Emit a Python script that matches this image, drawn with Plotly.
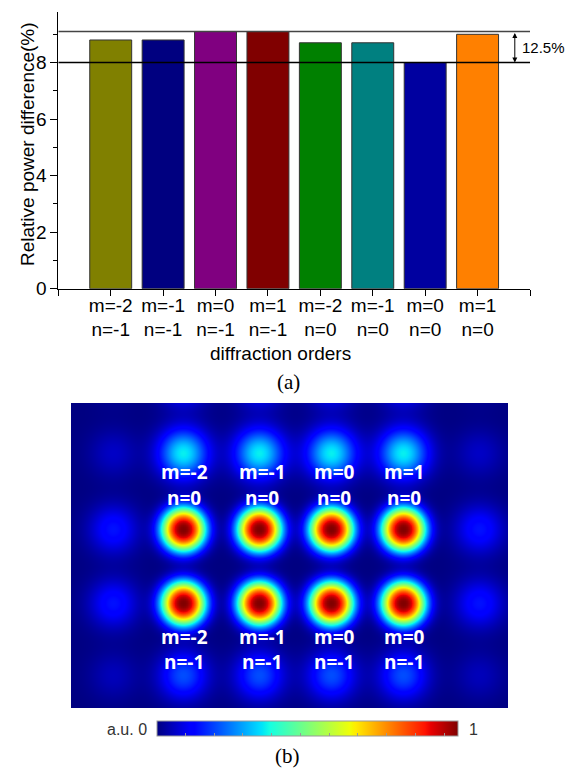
import numpy as np
import plotly.graph_objects as go

# ---------------- data: panel (a) ----------------
order_labels = ["m=-2<br>n=-1", "m=-1<br>n=-1", "m=0<br>n=-1", "m=1<br>n=-1",
                "m=-2<br>n=0", "m=-1<br>n=0", "m=0<br>n=0", "m=1<br>n=0"]
power_diff = [8.8, 8.8, 9.1, 9.1, 8.7, 8.7, 8.0, 9.0]
bar_colors = ["#808000", "#000080", "#800080", "#800000",
              "#008000", "#008080", "#0000A0", "#FF8000"]
ref_low = 8.0
ref_high = 9.1
ref_text = "12.5%"

# ---------------- data: panel (b) (spot centres in image pixels, peak intensity) ----------------
spot_cols = [42, 112, 188, 260, 332, 408]
spot_rows = [-25, 50, 126, 200, 272]
spot_amp = [
    [0.04, 0.22, 0.22, 0.22, 0.22, 0.04],
    [0.06, 0.36, 0.36, 0.36, 0.36, 0.06],
    [0.14, 1.00, 1.00, 1.00, 1.00, 0.14],
    [0.14, 1.00, 1.00, 1.00, 1.00, 0.14],
    [0.05, 0.20, 0.20, 0.20, 0.20, 0.05],
]
img_w, img_h = 437, 305
top_m = ["m=-2", "m=-1", "m=0", "m=1"]
top_n = ["n=0", "n=0", "n=0", "n=0"]
bot_m = ["m=-2", "m=-1", "m=0", "m=0"]
bot_n = ["n=-1", "n=-1", "n=-1", "n=-1"]
label_cols = [113, 191, 263, 333]

W, H = 576, 769
def px(x):
    return x / W
def py(y):
    return 1 - y / H

# build intensity image from the spots
xs = np.arange(0, img_w + 1, 2)
ys = np.arange(0, img_h + 1, 2)
X, Y = np.meshgrid(xs, ys)
Z = np.zeros(X.shape)
for ri, yc in enumerate(spot_rows):
    for ci, xc in enumerate(spot_cols):
        a = spot_amp[ri][ci]
        r = np.hypot(X - xc, Y - yc)
        if a >= 0.5:
            Z += a * np.exp(-(r / 22.0) ** 2.5)
        else:
            Z += a * np.exp(-(r / 24.0) ** 2)
Z = np.clip(Z, 0, 1)

jet = [[0.0, "rgb(0,0,128)"], [0.11, "rgb(0,0,255)"], [0.125, "rgb(0,0,255)"],
       [0.34, "rgb(0,219,255)"], [0.35, "rgb(0,230,247)"], [0.375, "rgb(21,255,226)"],
       [0.64, "rgb(239,255,8)"], [0.65, "rgb(247,245,0)"], [0.66, "rgb(255,236,0)"],
       [0.89, "rgb(255,19,0)"], [0.91, "rgb(232,0,0)"], [1.0, "rgb(128,0,0)"]]

fig = go.Figure()
fig.add_trace(go.Bar(
    x=list(range(len(power_diff))), y=power_diff, width=0.8,
    marker=dict(color=bar_colors, line=dict(color="#333333", width=1)),
    xaxis="x", yaxis="y", showlegend=False,
))
fig.add_trace(go.Heatmap(
    x=xs, y=ys, z=Z, colorscale=jet, zmin=0, zmax=1, zsmooth="best",
    xaxis="x2", yaxis="y2",
    colorbar=dict(orientation="h", x=px(307.5), xanchor="center", y=py(740), yanchor="bottom",
                  len=301 / W, lenmode="fraction", thickness=15, thicknessmode="pixels",
                  xpad=0, ypad=0, showticklabels=False, ticks="inside", ticklen=3,
                  tickcolor="#999999",
                  tickvals=[0.094 + 0.0956 * i for i in range(10)],
                  outlinewidth=1, outlinecolor="#999999"),
))

font_main = "Arial, Liberation Sans, sans-serif"
fig.update_layout(
    width=W, height=H, margin=dict(l=0, r=0, t=0, b=0, autoexpand=False),
    paper_bgcolor="white", plot_bgcolor="white",
    font=dict(family=font_main, color="black", size=19),
    xaxis=dict(domain=[px(58.3), px(530)], range=[-1, 8], showline=True, linecolor="black",
               linewidth=1, ticks="outside", ticklen=6, tickcolor="black",
               tickvals=list(range(-1, 9)), ticktext=[""] + order_labels + [""],
               showgrid=False, zeroline=False, tickfont=dict(size=19), automargin=False,
               ticklabelstandoff=-7),
    yaxis=dict(domain=[py(288.7), py(11.7)], range=[0, 9.8], showline=True, linecolor="black",
               linewidth=1, ticks="outside", ticklen=7, tickcolor="black", dtick=2,
               minor=dict(ticks="outside", ticklen=4, dtick=1, tickcolor="black"),
               showgrid=False, zeroline=False, tickfont=dict(size=19), automargin=False),
    xaxis2=dict(domain=[px(71), px(508)], range=[0, img_w], visible=False, automargin=False),
    yaxis2=dict(domain=[py(708), py(403)], range=[img_h, 0], visible=False, automargin=False),
)

shapes = []
for yv, col in [(ref_low, "black"), (ref_high, "#444444")]:
    shapes.append(dict(type="line", xref="x", yref="y", x0=-1, x1=8, y0=yv, y1=yv,
                       line=dict(color=col, width=1.5)))
fig.update_layout(shapes=shapes)

ann = []
ann.append(dict(x=7.71, y=ref_low, ax=7.71, ay=ref_high, xref="x", yref="y", axref="x", ayref="y",
                text="", showarrow=True, arrowhead=2, arrowside="end+start", arrowsize=1,
                arrowwidth=1, arrowcolor="black"))
ann.append(dict(x=7.8, y=(ref_low + ref_high) / 2, xref="x", yref="y", text=ref_text,
                showarrow=False, xanchor="left", yanchor="middle", font=dict(size=15)))
ann.append(dict(x=px(27), y=py(144), xref="paper", yref="paper",
                text="Relative power difference(%)", textangle=-90,
                showarrow=False, xanchor="center", yanchor="middle", font=dict(size=19)))
ann.append(dict(x=px(280), y=py(353), xref="paper", yref="paper", text="diffraction orders",
                showarrow=False, xanchor="center", yanchor="middle", font=dict(size=19)))
ann.append(dict(x=px(288), y=py(382), xref="paper", yref="paper", text="(a)", showarrow=False,
                font=dict(family="Times New Roman, Liberation Serif, serif", size=21)))
ann.append(dict(x=px(287), y=py(770), xref="paper", yref="paper", text="(b)", showarrow=False,
                font=dict(family="Times New Roman, Liberation Serif, serif", size=21)))
ann.append(dict(x=px(149), y=py(740), xref="paper", yref="paper", text="a.u. 0", showarrow=False,
                xanchor="right", font=dict(size=16, color="#333333")))
ann.append(dict(x=px(473), y=py(740), xref="paper", yref="paper", text="1", showarrow=False,
                xanchor="center", font=dict(size=16, color="#333333")))
wfont = dict(family="Open Sans, sans-serif", size=19, color="white", weight="bold")
for i, xc in enumerate(label_cols):
    for txt, yc in [(top_m[i], 69), (top_n[i], 95), (bot_m[i], 234), (bot_n[i], 259)]:
        ann.append(dict(x=xc, y=yc, xref="x2", yref="y2", text="<b>%s</b>" % txt,
                        showarrow=False, font=wfont))
fig.update_layout(annotations=ann)

fig.write_html("out.html", config={"displayModeBar": False},
               post_script="document.body.style.margin='0px';document.body.style.overflow='hidden';")
